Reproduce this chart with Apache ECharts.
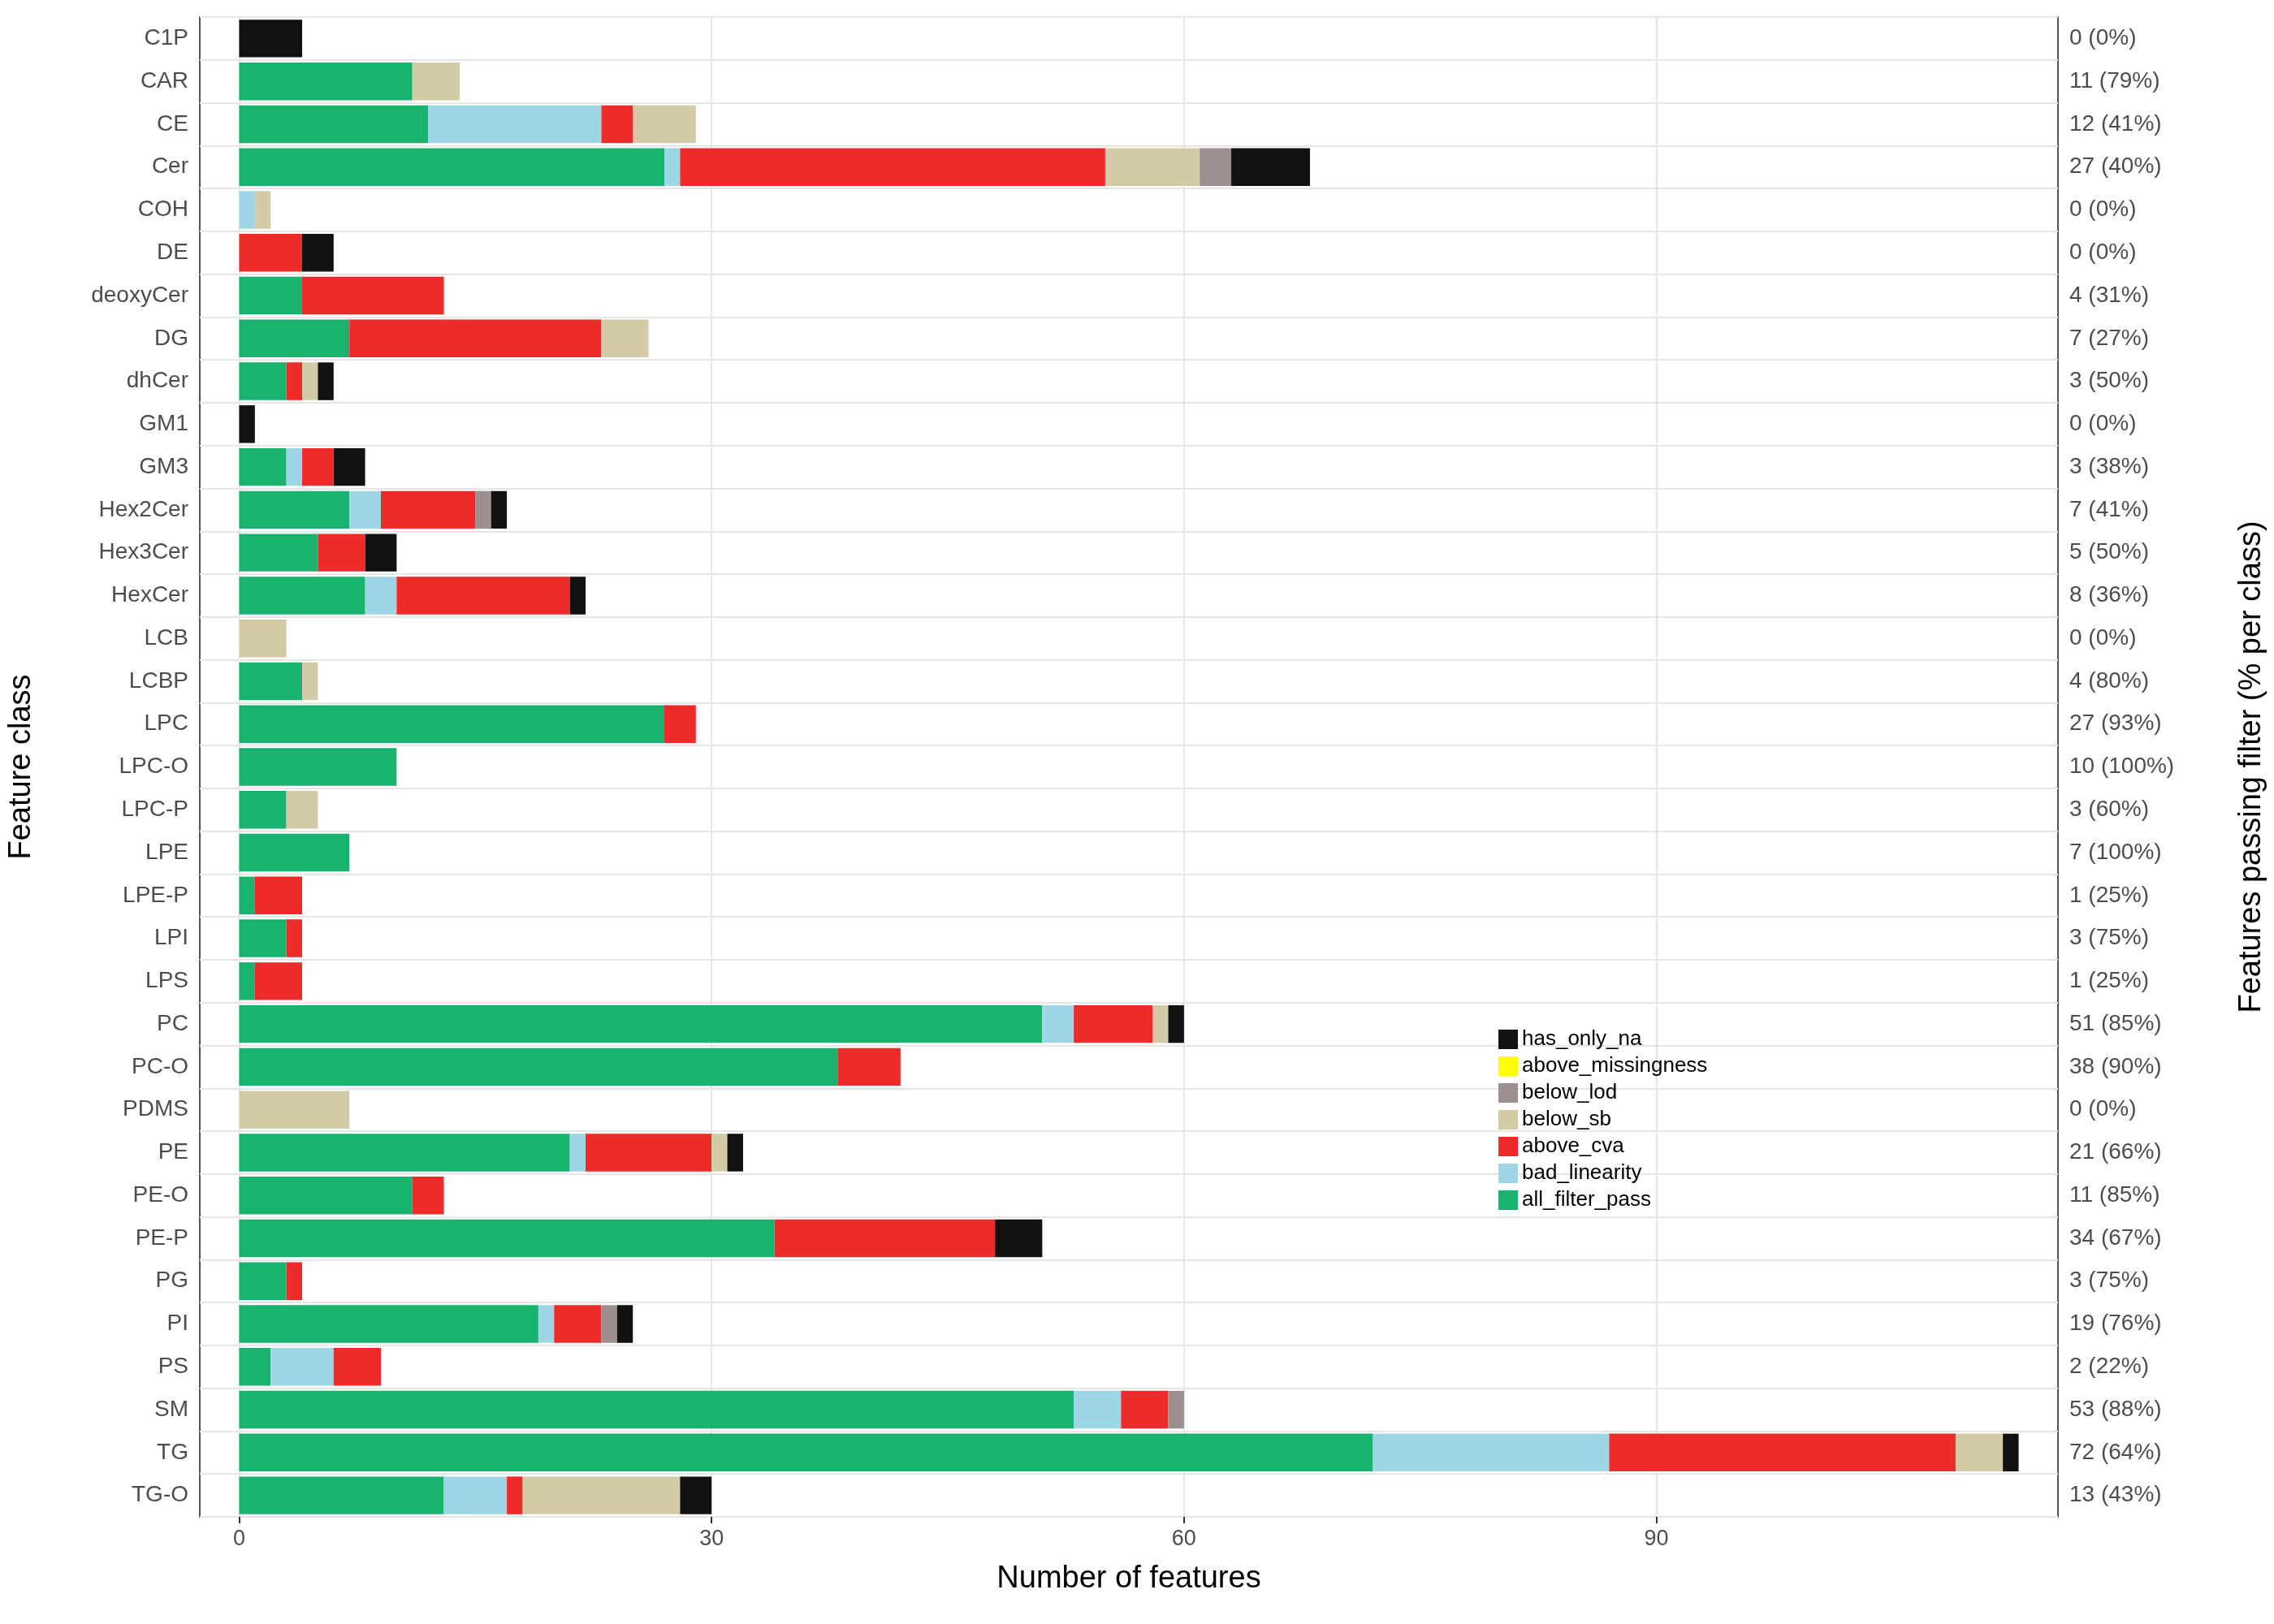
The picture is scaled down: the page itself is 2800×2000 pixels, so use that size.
<!DOCTYPE html>
<html>
<head>
<meta charset="utf-8">
<script src="https://cdn.jsdelivr.net/npm/echarts@6/dist/echarts.min.js"></script>
<style>html,body{margin:0;background:#fff}#chart{width:2800px;height:2000px}</style>
</head>
<body>
<div id="chart"></div>
<script>
// feature classes, top to bottom
var classes = ['C1P','CAR','CE','Cer','COH','DE','deoxyCer','DG','dhCer','GM1','GM3','Hex2Cer','Hex3Cer','HexCer','LCB','LCBP','LPC','LPC-O','LPC-P','LPE','LPE-P','LPI','LPS','PC','PC-O','PDMS','PE','PE-O','PE-P','PG','PI','PS','SM','TG','TG-O'];

var allFilterPass = [0,11,12,27,0,0,4,7,3,0,3,7,5,8,0,4,27,10,3,7,1,3,1,51,38,0,21,11,34,3,19,2,53,72,13];
var badLinearity  = [0,0,11,1,1,0,0,0,0,0,1,2,0,2,0,0,0,0,0,0,0,0,0,2,0,0,1,0,0,0,1,4,3,15,4];
var aboveCva      = [0,0,2,27,0,4,9,16,1,0,2,6,3,11,0,0,2,0,0,0,3,1,3,5,4,0,8,2,14,1,3,3,3,22,1];
var belowSb       = [0,3,4,6,1,0,0,3,1,0,0,0,0,0,3,1,0,0,2,0,0,0,0,1,0,7,1,0,0,0,0,0,0,3,10];
var belowLod      = [0,0,0,2,0,0,0,0,0,0,0,1,0,0,0,0,0,0,0,0,0,0,0,0,0,0,0,0,0,0,1,0,1,0,0];
var aboveMissing  = [0,0,0,0,0,0,0,0,0,0,0,0,0,0,0,0,0,0,0,0,0,0,0,0,0,0,0,0,0,0,0,0,0,0,0];
var hasOnlyNa     = [4,0,0,5,0,2,0,0,1,1,2,1,2,1,0,0,0,0,0,0,0,0,0,1,0,0,1,0,3,0,1,0,0,1,2];

var passLabels = ['0 (0%)','11 (79%)','12 (41%)','27 (40%)','0 (0%)','0 (0%)','4 (31%)','7 (27%)','3 (50%)','0 (0%)','3 (38%)','7 (41%)','5 (50%)','8 (36%)','0 (0%)','4 (80%)','27 (93%)','10 (100%)','3 (60%)','7 (100%)','1 (25%)','3 (75%)','1 (25%)','51 (85%)','38 (90%)','0 (0%)','21 (66%)','11 (85%)','34 (67%)','3 (75%)','19 (76%)','2 (22%)','53 (88%)','72 (64%)','13 (43%)'];

var xTicks = [0, 30, 60, 90];

var seriesDefs = [
    ['all_filter_pass', allFilterPass, '#19B36F'],
    ['bad_linearity', badLinearity, '#9ED6E6'],
    ['above_cva', aboveCva, '#EE2B2B'],
    ['below_sb', belowSb, '#D2CBA6'],
    ['below_lod', belowLod, '#9B8F8F'],
    ['above_missingness', aboveMissing, '#FFFF00'],
    ['has_only_na', hasOnlyNa, '#111111']
];

var chart = echarts.init(document.getElementById('chart'));
var font = 'Liberation Sans';

var series = seriesDefs.map(function(d) {
    return {
        name: d[0], type: 'bar', stack: 'all', data: d[1],
        itemStyle: { color: d[2] }, barCategoryGap: '12%',
        yAxisIndex: 0
    };
});

chart.setOption({
    animation: false,
    textStyle: { fontFamily: font },
    grid: { left: 243, right: 260, top: 21, bottom: 132, show: true, borderColor: '#555', borderWidth: 2 },
    legend: {
        orient: 'vertical', left: 1840, top: 1262,
        data: seriesDefs.map(function(d){ return d[0]; }).reverse(),
        itemWidth: 24, itemHeight: 24, itemGap: 7,
        textStyle: { fontSize: 26, color: '#000', fontFamily: font },
        icon: 'rect'
    },
    xAxis: {
        type: 'value', min: -2.5, max: 115.5,
        name: 'Number of features', nameLocation: 'middle', nameGap: 58,
        nameTextStyle: { fontSize: 38, color: '#000' },
        axisLine: { show: false },
        axisTick: { show: true, customValues: xTicks, length: 8, lineStyle: { color: '#333', width: 2 } },
        axisLabel: { customValues: xTicks, fontSize: 27, color: '#4d4d4d', margin: 14 },
        splitLine: { lineStyle: { color: '#e6e6e6', width: 2 } }
    },
    yAxis: [{
        type: 'category', data: classes, inverse: true,
        name: 'Feature class', nameLocation: 'middle', nameGap: 200,
        nameTextStyle: { fontSize: 38, color: '#000' },
        axisLine: { show: false },
        axisTick: { alignWithLabel: true, length: 8, lineStyle: { color: '#333', width: 2 } },
        axisLabel: { fontSize: 28, color: '#4d4d4d', margin: 14 },
        splitLine: { show: true, interval: 0, lineStyle: { color: '#e6e6e6', width: 2 } }
    }, {
        type: 'category', data: passLabels, inverse: true, position: 'right',
        name: 'Features passing filter (% per class)', nameLocation: 'middle', nameGap: 220,
        nameRotate: 90,
        nameTextStyle: { fontSize: 38, color: '#000' },
        axisLine: { show: false },
        axisTick: { alignWithLabel: true, length: 8, lineStyle: { color: '#333', width: 2 } },
        axisLabel: { fontSize: 28, color: '#4d4d4d', margin: 14 }
    }],
    series: series.concat([{
        type: 'bar', yAxisIndex: 1, data: classes.map(function(){ return 0; }),
        silent: true, itemStyle: { color: 'transparent' }
    }])
});
</script>
</body>
</html>
